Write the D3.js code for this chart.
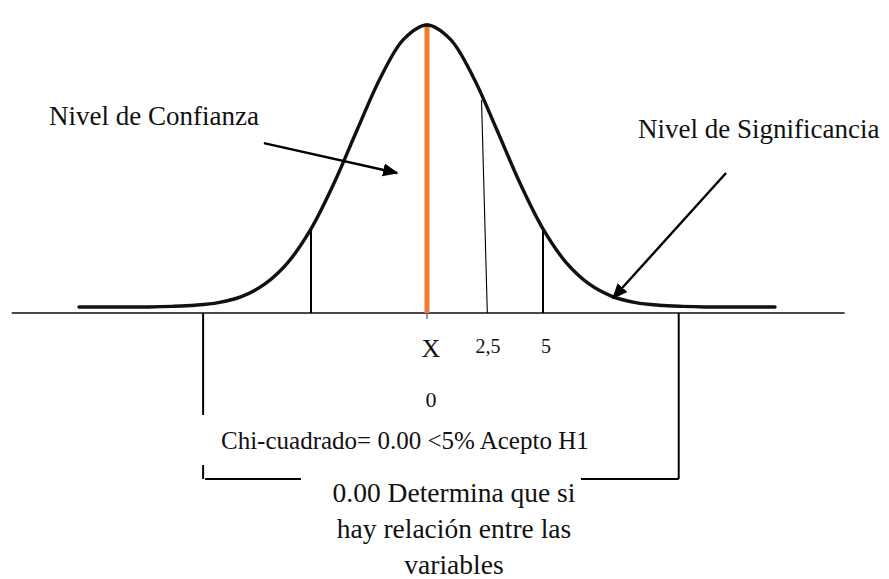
<!DOCTYPE html>
<html>
<head>
<meta charset="utf-8">
<script src="https://cdn.jsdelivr.net/npm/d3@7"></script>
<style>
  html, body { margin: 0; padding: 0; background: #fff; }
  svg { display: block; }
  text { font-family: "Liberation Serif", "Times New Roman", serif; fill: #111; }
</style>
</head>
<body>
<svg id="chart" width="889" height="579"></svg>
<script>
// ---- data ----
const curveX = [-15,-14,-13,-12,-11,-10,-9,-8,-7,-6,-5,-4,-3,-2,-1,0,1,2,3,4,5,6,7,8,9,10,11,12,13,14,15];
const curveY = [2.1,2.1,2.1,2.1,2.3,2.7,3.6,5.7,10.0,17.5,29.2,45.2,63.8,81.8,95.1,100,95.1,81.8,63.8,45.2,29.2,17.5,10.0,5.7,3.6,2.7,2.3,2.1,2.1,2.1,2.1];
const markerX = [-5, 5];                 // vertical guide lines under the curve
const criticalLine = [[2.35, 74], [2.6, 0]]; // thin "2,5" line
const tickLabels = ["X", "2,5", "5"];
const tickValues = [0, 2.5, 5];
const zeroLabel = "0";
const labelConfianza = "Nivel de Confianza";
const labelSignificancia = "Nivel de Significancia";
const chiText = "Chi-cuadrado= 0.00 <5% Acepto H1";
const conclusionLines = ["0.00 Determina que si", "hay relación entre las", "variables"];
const arrowConfianza = [[-7.03, 59.0], [-1.29, 48.6]];
const arrowSignificancia = [[12.89, 48.6], [8.02, 5.2]];
const bracketLeftX = -9.65, bracketRightX = 10.85;

// ---- scales ----
const x = d3.scaleLinear().domain([-15, 15]).range([79, 775]);
const y = d3.scaleLinear().domain([0, 100]).range([313, 25]);

const svg = d3.select("#chart");

const defs = svg.append("defs");
defs.append("marker").attr("id", "arrow").attr("viewBox", "0 0 10 10")
  .attr("refX", 9).attr("refY", 5).attr("markerWidth", 6.5).attr("markerHeight", 6.5)
  .attr("markerUnits", "strokeWidth").attr("orient", "auto")
  .append("path").attr("d", "M0,0.8 L10,5 L0,9.2 Z").attr("fill", "#000");

// baseline
svg.append("line").attr("x1", x(-17.9)).attr("x2", x(18.0)).attr("y1", y(0)).attr("y2", y(0))
  .attr("stroke", "#4a4a4a").attr("stroke-width", 2);

// center tick under baseline
svg.append("line").attr("x1", x(0)).attr("x2", x(0)).attr("y1", y(0)).attr("y2", y(0) + 6)
  .attr("stroke", "#555").attr("stroke-width", 1.2);

const pts = curveX.map((v, i) => [v, curveY[i]]);
const valueAt = v => curveY[curveX.indexOf(v)];

// vertical guide lines
svg.selectAll(".guide").data(markerX).join("line").attr("class", "guide")
  .attr("x1", d => x(d)).attr("x2", d => x(d))
  .attr("y1", y(0)).attr("y2", d => y(valueAt(d)))
  .attr("stroke", "#000").attr("stroke-width", 2);

// thin 2,5 line
svg.append("line")
  .attr("x1", x(criticalLine[0][0])).attr("y1", y(criticalLine[0][1]))
  .attr("x2", x(criticalLine[1][0])).attr("y2", y(criticalLine[1][1]))
  .attr("stroke", "#000").attr("stroke-width", 1.1);

// orange mean line
svg.append("line").attr("x1", x(0)).attr("x2", x(0)).attr("y1", y(100) - 2).attr("y2", y(0))
  .attr("stroke", "#ED7D31").attr("stroke-width", 5);

// bell curve
const line = d3.line().x(d => x(d[0])).y(d => y(d[1])).curve(d3.curveCatmullRom.alpha(0.5));
svg.append("path").datum(pts).attr("d", line).attr("fill", "none")
  .attr("stroke", "#111").attr("stroke-width", 3.4).attr("stroke-linecap", "round");

// tick labels
svg.selectAll(".tl").data(tickLabels).join("text").attr("class", "tl")
  .attr("x", (d, i) => x(tickValues[i]) + (i === 0 ? 4 : 3))
  .attr("y", (d, i) => i === 0 ? 357 : 353)
  .attr("text-anchor", "middle")
  .attr("font-size", (d, i) => i === 0 ? 26 : 20)
  .text(d => d);
svg.append("text").attr("x", x(0) + 4).attr("y", 407).attr("text-anchor", "middle")
  .attr("font-size", 22).text(zeroLabel);

// annotation labels
svg.append("text").attr("x", 49).attr("y", 125).attr("font-size", 27).text(labelConfianza);
svg.append("text").attr("x", 638).attr("y", 138).attr("font-size", 27).text(labelSignificancia);

// arrows
[arrowConfianza, arrowSignificancia].forEach(a => {
  svg.append("line")
    .attr("x1", x(a[0][0])).attr("y1", y(a[0][1]))
    .attr("x2", x(a[1][0])).attr("y2", y(a[1][1]))
    .attr("stroke", "#000").attr("stroke-width", 2.4)
    .attr("marker-end", "url(#arrow)");
});

// bracket
const bl = x(bracketLeftX), br = x(bracketRightX);
const bs = svg.append("g").attr("stroke", "#000").attr("stroke-width", 2).attr("fill", "none");
bs.append("line").attr("x1", bl).attr("x2", bl).attr("y1", y(0)).attr("y2", 415);
bs.append("line").attr("x1", bl).attr("x2", bl).attr("y1", 465).attr("y2", 479);
bs.append("line").attr("x1", bl + 2).attr("x2", 301).attr("y1", 479).attr("y2", 479);
bs.append("line").attr("x1", br).attr("x2", br).attr("y1", y(0)).attr("y2", 479);
bs.append("line").attr("x1", 581).attr("x2", br).attr("y1", 479).attr("y2", 479);

// chi text
svg.append("text").attr("x", 221).attr("y", 449).attr("font-size", 25).text(chiText);

// conclusion
svg.selectAll(".cl").data(conclusionLines).join("text").attr("class", "cl")
  .attr("x", 454).attr("y", (d, i) => 502 + i * 36)
  .attr("text-anchor", "middle").attr("font-size", 27.5).text(d => d);
</script>
</body>
</html>
